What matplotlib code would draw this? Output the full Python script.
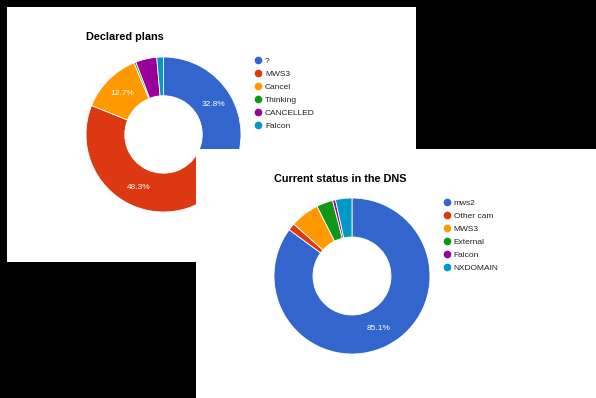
import matplotlib
matplotlib.use("Agg")
from matplotlib import pyplot as plt
from matplotlib.lines import Line2D

plt.rcParams['font.family'] = ['Liberation Sans', 'DejaVu Sans']

# data
plan_labels = ['?', 'MWS3', 'Cancel', 'Thinking', 'CANCELLED', 'Falcon']
plan_values = [32.8, 48.3, 12.7, 0.4, 4.4, 1.4]

dns_labels = ['mws2', 'Other cam', 'MWS3', 'External', 'Falcon', 'NXDOMAIN']
dns_values = [85.1, 1.5, 6.0, 3.4, 0.6, 3.4]

plan_colors = ['#3366cc', '#dc3912', '#ff9900', '#109618', '#990099', '#0099c6']
dns_colors = ['#3366cc', '#dc3912', '#ff9900', '#109618', '#990099', '#0099c6']

W, H = 596, 398
fig = plt.figure(figsize=(W / 100, H / 100), dpi=100, facecolor='black')


def box(x, y, w, h):
    # pixel box (top-left origin) -> figure fraction
    return [x / W, 1 - (y + h) / H, w / W, h / H]


def panel(rect, z):
    ax = fig.add_axes(box(*rect), zorder=z)
    ax.set_facecolor('white')
    ax.set_xticks([])
    ax.set_yticks([])
    for s in ax.spines.values():
        s.set_visible(False)
    return ax


def pct(p):
    return '%.1f%%' % p if p > 10 else ''


def donut(rect, z, values, colors, labels, title, title_xy, leg_xy):
    ax = fig.add_axes(box(*rect), zorder=z)
    wedges, _, autotexts = ax.pie(values, colors=colors, startangle=90, counterclock=False,
                                  autopct=pct, pctdistance=0.75,
                                  wedgeprops=dict(width=0.5, edgecolor='white', linewidth=0.6),
                                  textprops=dict(color='white', fontsize=6))
    ax.set_xlim(-1, 1)
    ax.set_ylim(-1, 1)
    ax.set_aspect('equal')
    fig.text(title_xy[0] / W, 1 - title_xy[1] / H, title, fontsize=7.8, fontweight='bold',
             va='center', ha='left', zorder=z + 1)
    handles = [Line2D([], [], marker='o', linestyle='none', markersize=4.5,
                      markerfacecolor=c, markeredgecolor=c) for c in colors]
    ax.legend(handles, labels, loc='upper left', frameon=False,
              bbox_to_anchor=(leg_xy[0] / W, 1 - leg_xy[1] / H), bbox_transform=fig.transFigure,
              borderpad=0, borderaxespad=0, handlelength=0.8, handletextpad=0.4,
              labelspacing=0.62, fontsize=6, labelcolor='#222222')
    return ax


bg1 = panel((7, 7, 409, 255), 0)
pie1 = donut((86, 57, 155, 155), 1, plan_values, plan_colors, plan_labels,
             'Declared plans', (86, 37), (255, 56.8))
bg2 = panel((196, 149, 400, 249), 2)
pie2 = donut((274, 198, 156, 156), 3, dns_values, dns_colors, dns_labels,
             'Current status in the DNS', (274, 179), (443.5, 198.7))

fig.savefig('out.png', dpi=100, facecolor='black')
